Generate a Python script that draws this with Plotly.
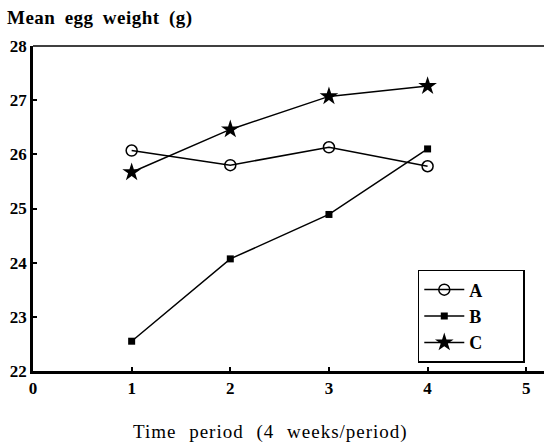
import plotly.graph_objects as go

periods = [1, 2, 3, 4]
series_a = [26.07, 25.80, 26.13, 25.78]
series_b = [22.55, 24.07, 24.89, 26.10]
series_c = [25.67, 26.46, 27.07, 27.26]
x_ticks = [0, 1, 2, 3, 4, 5]
y_ticks = [22, 23, 24, 25, 26, 27, 28]

FONT = "Liberation Serif"
PAD = "&nbsp;" * 8
fig = go.Figure()
fig.add_trace(go.Scatter(x=periods, y=series_a, name="<b>A</b>" + PAD, mode="lines+markers",
                         line=dict(color="black", width=1.5),
                         marker=dict(symbol="circle-open", size=11, color="black", line=dict(width=1.5))))
fig.add_trace(go.Scatter(x=periods, y=series_b, name="<b>B</b>" + PAD, mode="lines+markers",
                         line=dict(color="black", width=1.5),
                         marker=dict(symbol="square", size=7, color="black")))
fig.add_trace(go.Scatter(x=periods, y=series_c, name="<b>C</b>" + PAD, mode="lines+markers",
                         line=dict(color="black", width=1.5),
                         marker=dict(symbol="star", size=14, color="black")))

tickfont = dict(family=FONT, size=17, color="black", weight="bold")
fig.update_layout(
    width=544, height=447,
    margin=dict(l=33, r=0, t=46, b=76),
    plot_bgcolor="white", paper_bgcolor="white",
    font=dict(family=FONT, color="black", size=16),
    showlegend=True,
    legend=dict(x=0.753, y=0.311, xanchor="left", yanchor="top",
                bordercolor="black", borderwidth=1.5, bgcolor="white",
                font=dict(family=FONT, size=18, color="black"),
                tracegroupgap=0, itemwidth=40),
    xaxis=dict(range=[0, 5.18], tickvals=x_ticks, ticktext=[str(v) for v in x_ticks],
               automargin=False,
               showgrid=False, zeroline=False, showline=True, linecolor="black", linewidth=2.5,
               ticks="inside", ticklen=4, tickwidth=1.5, tickcolor="black",
               tickfont=tickfont),
    yaxis=dict(range=[22, 28], tickvals=y_ticks, ticktext=[str(v) for v in y_ticks],
               automargin=False,
               showgrid=False, zeroline=False, showline=True, linecolor="black", linewidth=2.5,
               ticks="inside", ticklen=4, tickwidth=1.5, tickcolor="black",
               tickfont=tickfont),
    shapes=[dict(type="line", xref="paper", yref="paper", x0=0, x1=1, y0=1, y1=1,
                 line=dict(color="black", width=1.5))],
    annotations=[
        dict(text='<span style="letter-spacing:0.5px;word-spacing:4px"><b>Mean egg weight (g)</b></span>',
             xref="paper", yref="paper", x=0, xshift=-28,
             y=1, yshift=28, xanchor="left", yanchor="middle", showarrow=False,
             font=dict(family=FONT, size=19, color="black")),
        dict(text='<span style="letter-spacing:1px;word-spacing:7px">Time period (4 weeks/period)</span>',
             xref="paper", yref="paper", x=0.464,
             y=0, yshift=-61, xanchor="center", yanchor="middle", showarrow=False,
             font=dict(family=FONT, size=19, color="black")),
    ],
)
fig.write_html("out.html", config={"displayModeBar": False},
               post_script="document.body.style.margin='0px';")
